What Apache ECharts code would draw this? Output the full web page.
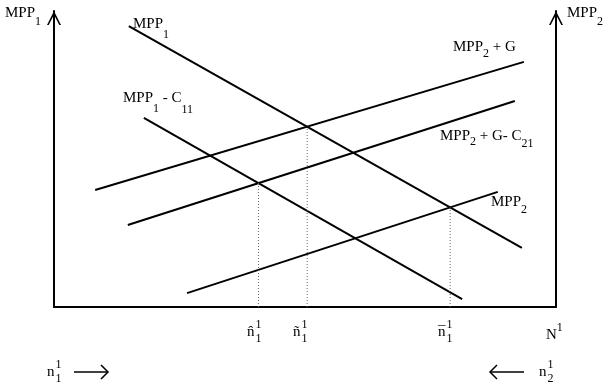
<!DOCTYPE html>
<html>
<head>
<meta charset="utf-8">
<script src="https://cdn.jsdelivr.net/npm/echarts@6/dist/echarts.min.js"></script>
<style>
  html, body { margin: 0; padding: 0; background: #fff; }
  #chart { width: 605px; height: 389px; }
</style>
</head>
<body>
<div id="chart"></div>
<script>
// schedule lines, each given by two end points [x, y] on a 0..100 scale
const mpp1 = [[14.9, 94.9], [93.2, 20.0]];
const mpp1MinusC11 = [[17.9, 63.9], [81.3, 2.7]];
const mpp2PlusG = [[8.2, 39.5], [93.6, 82.8]];
const mpp2PlusGMinusC21 = [[14.7, 27.7], [91.8, 69.6]];
const mpp2 = [[26.5, 4.7], [88.4, 38.9]];

// where two lines cross (the equilibria marked with dotted lines)
function cross(a, b) {
  const ka = (a[1][1] - a[0][1]) / (a[1][0] - a[0][0]);
  const kb = (b[1][1] - b[0][1]) / (b[1][0] - b[0][0]);
  const x = (b[0][1] - a[0][1] + ka * a[0][0] - kb * b[0][0]) / (ka - kb);
  return [x, a[0][1] + ka * (x - a[0][0])];
}
const eqHat = cross(mpp1MinusC11, mpp2PlusGMinusC21);
const eqTilde = cross(mpp1, mpp2PlusG);
const eqBar = cross(mpp1, mpp2);

const SERIF = '"Liberation Serif", "Times New Roman", serif';
const ctx2d = document.createElement('canvas').getContext('2d');
function textW(t, size) {
  ctx2d.font = size + 'px ' + SERIF;
  return ctx2d.measureText(t).width;
}
// one text piece, y is its baseline
function piece(t, x, base, size, align) {
  return {
    type: 'text', x: x, y: base - size * 0.32, silent: true,
    style: { text: t, font: size + 'px ' + SERIF, fill: '#000', align: align || 'left', verticalAlign: 'middle' }
  };
}
// parts: [text, size, dy]
function label(x0, base, parts) {
  let x = x0;
  const out = [];
  parts.forEach(p => {
    out.push(piece(p[0], x, base + (p[2] || 0), p[1]));
    x += textW(p[0], p[1]);
  });
  return out;
}
// n with an accent, superscript 1 and a subscript digit
function nLabel(x0, base, accent, subDigit) {
  const wn = textW('n', 15);
  const out = [piece('n', x0, base, 15)];
  if (accent) out.push(piece(accent, x0 + wn / 2, base, 15, 'center'));
  out.push(piece('1', x0 + wn + 1, base - 8, 12));
  out.push(piece(subDigit || '1', x0 + wn + 1, base + 6, 12));
  return out;
}
function arrow(x1, x2, y) {
  const dir = x2 > x1 ? 1 : -1;
  return [
    { type: 'line', silent: true, shape: { x1: x1, y1: y, x2: x2, y2: y }, style: { stroke: '#000', lineWidth: 1.5 } },
    { type: 'polyline', silent: true, shape: { points: [[x2 - dir * 7, y - 7], [x2, y], [x2 - dir * 7, y + 7]] }, style: { stroke: '#000', lineWidth: 1.5, fill: null } }
  ];
}

const texts = [].concat(
  label(5, 18, [['MPP', 15], ['1', 12, 8]]),
  label(567, 18, [['MPP', 15], ['2', 12, 8]]),
  label(133, 29, [['MPP', 15], ['1', 12, 10]]),
  label(123, 103, [['MPP', 15], ['1', 12, 10], [' - C', 15], ['11', 12, 11]]),
  label(453, 52, [['MPP', 15], ['2', 12, 6], [' + G', 15]]),
  label(440, 141, [['MPP', 15], ['2', 12, 5], [' + G- C', 15], ['21', 12, 7]]),
  label(491, 207, [['MPP', 15], ['2', 12, 7]]),
  nLabel(247, 337, 'ˆ'),
  nLabel(293, 337, '˜'),
  nLabel(438, 337, '¯'),
  label(546, 340, [['N', 15], ['1', 12, -8]]),
  nLabel(47, 377, null),
  arrow(74, 108, 372),
  nLabel(539, 377, null, '2'),
  arrow(524, 490, 372)
);

const ARROW = 'path://M5,0 L10,10 L8.8,10 L5,2.6 L1.2,10 L0,10 Z';
function sideAxis(pos) {
  return {
    type: 'value', position: pos, min: 0, max: 100,
    axisLine: {
      show: true, symbol: ['none', ARROW], symbolSize: [15, 14], symbolOffset: [0, -7],
      lineStyle: { color: '#000', width: 2 }
    },
    axisTick: { show: false }, axisLabel: { show: false }, splitLine: { show: false }
  };
}
function solid(data) {
  return { type: 'line', data: data, showSymbol: false, silent: true, lineStyle: { color: '#000', width: 2 } };
}
function dotted(p) {
  return { type: 'line', data: [[p[0], 0], p], showSymbol: false, silent: true, lineStyle: { color: '#666', width: 1, type: [1, 2] } };
}

const chart = echarts.init(document.getElementById('chart'));
chart.setOption({
  animation: false,
  backgroundColor: '#fff',
  grid: { left: 54, right: 49, top: 11, bottom: 82 },
  xAxis: {
    type: 'value', min: 0, max: 100,
    axisLine: { show: true, onZero: false, lineStyle: { color: '#000', width: 2 } },
    axisTick: { show: false }, axisLabel: { show: false }, splitLine: { show: false }
  },
  yAxis: [sideAxis('left'), sideAxis('right')],
  series: [
    solid(mpp1), solid(mpp1MinusC11), solid(mpp2PlusG), solid(mpp2PlusGMinusC21), solid(mpp2),
    dotted(eqHat), dotted(eqTilde), dotted(eqBar)
  ],
  graphic: texts
});
</script>
</body>
</html>
